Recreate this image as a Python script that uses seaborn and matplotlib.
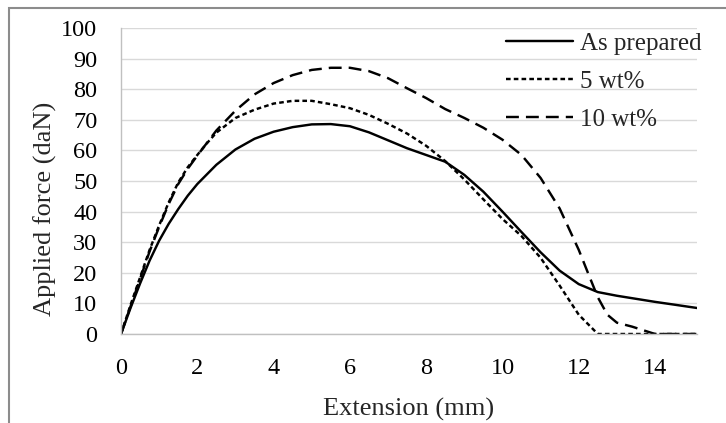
import numpy as np
import pandas as pd
import seaborn as sns
import matplotlib.pyplot as plt
from matplotlib.patches import Rectangle

# extension (mm) and applied force (daN)
ext_as = [0, 0.25, 0.5, 0.75, 1.0, 1.25, 1.5, 1.75, 2.0, 2.5, 3.0, 3.5, 4.0, 4.5, 5.0,
          5.5, 6.0, 6.5, 7.0, 7.5, 8.0, 8.5, 9.0, 9.5, 10.0, 10.5, 11.0, 11.5, 12.0,
          12.5, 13.0, 13.5, 14.0, 14.5, 15.1]
force_as = [0, 8.5, 16.5, 24, 30.5, 36, 40.8, 45.2, 49, 55.3, 60.3, 63.8, 66.1, 67.6,
            68.5, 68.6, 67.9, 65.9, 63.3, 60.7, 58.5, 56.3, 52, 46.5, 40, 33.3, 26.7,
            20.7, 16.3, 13.7, 12.5, 11.5, 10.5, 9.6, 8.5]

ext_5 = [0, 0.25, 0.5, 0.75, 1.0, 1.25, 1.5, 1.75, 2.0, 2.25, 2.5, 3.0, 3.5, 4.0, 4.5,
         5.0, 5.5, 6.0, 6.5, 7.0, 7.5, 8.0, 8.5, 9.0, 9.5, 10.0, 10.5, 11.0, 11.5, 12.0,
         12.5, 15.1]
force_5 = [0, 9.5, 18.5, 27.5, 35.5, 43, 49.5, 54.5, 58.5, 62.3, 65.8, 70.6, 73.3, 75.3,
           76.2, 76.2, 75.1, 73.8, 71.6, 68.7, 65.5, 61.5, 56.5, 50.5, 44, 37.6, 32,
           24.9, 15.8, 6.3, 0, 0]

ext_10 = [0, 0.25, 0.5, 0.75, 1.0, 1.25, 1.5, 1.75, 2.0, 2.5, 3.0, 3.5, 4.0, 4.5, 5.0,
          5.5, 6.0, 6.5, 7.0, 7.5, 8.0, 8.5, 9.0, 9.5, 10.0, 10.5, 11.0, 11.5, 12.0,
          12.25, 12.5, 12.75, 13.0, 13.4, 14.0, 15.1]
force_10 = [0, 9, 18, 27, 35, 42.5, 49, 54, 58.3, 66.5, 73, 78.3, 82, 84.6, 86.3, 87.0,
            87.0, 85.9, 83.6, 80.3, 77.1, 73.5, 70.6, 67.4, 63.5, 58.5, 51, 41, 27.5,
            19.7, 12, 6.3, 3.7, 2.4, 0, 0]

labels = ['As prepared', '5 wt%', '10 wt%']

df = pd.concat([
    pd.DataFrame({'Extension (mm)': ext_as, 'Applied force (daN)': force_as, 'Sample': labels[0]}),
    pd.DataFrame({'Extension (mm)': ext_5, 'Applied force (daN)': force_5, 'Sample': labels[1]}),
    pd.DataFrame({'Extension (mm)': ext_10, 'Applied force (daN)': force_10, 'Sample': labels[2]}),
])

sns.set_theme(style='white')
plt.rcParams['font.family'] = ['Liberation Serif', 'DejaVu Serif']

fig = plt.figure(figsize=(7.26, 4.23), dpi=100)
ax = fig.add_axes([121 / 726, 89 / 423, 576 / 726, 306 / 423])

ax = sns.lineplot(
    data=df, x='Extension (mm)', y='Applied force (daN)',
    hue='Sample', style='Sample',
    palette={l: 'black' for l in labels},
    dashes={labels[0]: '', labels[1]: (1.9, 1.3), labels[2]: (5.3, 2.9)},
    sort=False, estimator=None, linewidth=1.75, ax=ax,
)

ax.set_xlim(0, 15.1)
ax.set_ylim(0, 100)
ax.set_xticks(np.arange(0, 15, 2))
ax.set_yticks(np.arange(0, 101, 10))
ax.yaxis.grid(True, color='#d9d9d9', linewidth=1)
ax.set_axisbelow(True)
for s in ['top', 'right']:
    ax.spines[s].set_visible(False)
for s in ['left', 'bottom']:
    ax.spines[s].set_color('#c0c0c0')
    ax.spines[s].set_linewidth(1)
ax.tick_params(axis='both', length=0, pad=17, labelsize=17.5, colors='black')

ax.set_xlabel('Extension (mm)', fontsize=19, va='center')
ax.set_ylabel('Applied force (daN)', fontsize=19, va='center')
ax.xaxis.set_label_coords(0.5, -0.245)
ax.yaxis.set_label_coords(-0.132, 0.41)

ax.legend(title=None, frameon=False, fontsize=18, loc='upper left',
          bbox_to_anchor=(0.668, 0.985), borderaxespad=0, borderpad=0,
          handlelength=2.7, handletextpad=0.25, labelspacing=0.62)

# outer chart border (cut off at the right and bottom in the reference)
fig.patches.append(Rectangle((9 / 726, -0.1), 1.2, 1 - 8 / 423 + 0.1,
                             transform=fig.transFigure, fill=False,
                             edgecolor='#8c8c8c', linewidth=1.5))

fig.savefig('out.png', dpi=100)
